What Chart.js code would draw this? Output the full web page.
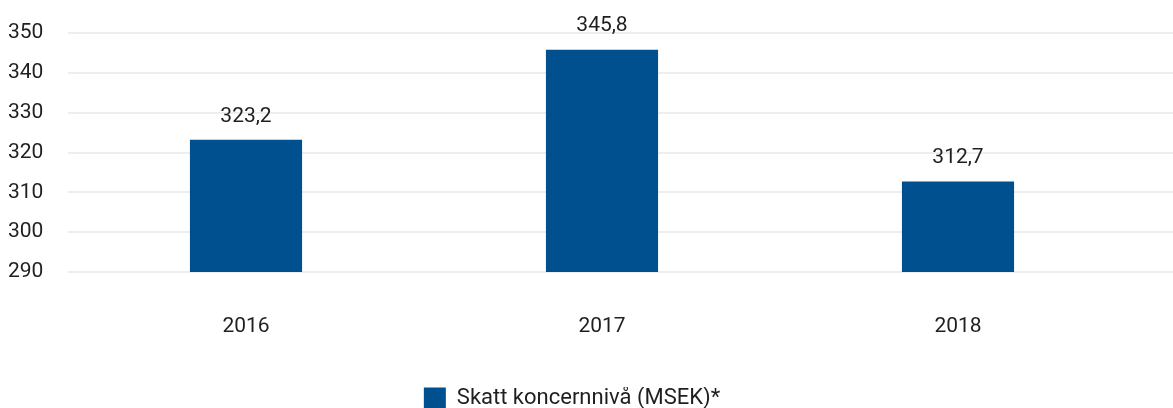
<!DOCTYPE html>
<html>
<head>
<meta charset="utf-8">
<script src="https://cdn.jsdelivr.net/npm/chart.js@4/dist/chart.umd.min.js"></script>
<style>
    html, body { margin: 0; padding: 0; background: #fff; }
    #wrap { width: 1173px; height: 408px; }
</style>
</head>
<body>
<div id="wrap"><canvas id="chart"></canvas></div>
<script>
const years = ['2016', '2017', '2018'];
const skatt = [323.2, 345.8, 312.7];
const seriesLabel = 'Skatt koncernnivå (MSEK)*';
const yMin = 290;
const yMax = 350;
const yStep = 10;

const textColor = '#1f1f1f';
const barColor = '#004f8f';
const gridColor = '#eeeeee';

// draw value labels above the bars and extend the grid to the right edge
const extras = {
    id: 'extras',
    beforeDatasetsDraw(chart) {
        const { ctx, chartArea, scales } = chart;
        ctx.save();
        ctx.strokeStyle = gridColor;
        ctx.lineWidth = 2;
        scales.y.ticks.forEach(t => {
            const y = Math.round(scales.y.getPixelForValue(t.value));
            ctx.beginPath();
            ctx.moveTo(chartArea.left, y);
            ctx.lineTo(chart.width, y);
            ctx.stroke();
        });
        ctx.restore();
    },
    afterDatasetsDraw(chart) {
        const { ctx } = chart;
        const meta = chart.getDatasetMeta(0);
        ctx.save();
        ctx.fillStyle = textColor;
        ctx.font = '21px Roboto';
        ctx.textAlign = 'center';
        ctx.textBaseline = 'bottom';
        meta.data.forEach((bar, i) => {
            const txt = skatt[i].toFixed(1).replace('.', ',');
            ctx.fillText(txt, bar.x, bar.y - 13);
        });
        ctx.restore();
    }
};

new Chart(document.getElementById('chart'), {
    type: 'bar',
    data: {
        labels: years,
        datasets: [{
            label: seriesLabel,
            data: skatt,
            backgroundColor: barColor,
            borderWidth: 0,
            barPercentage: 0.63,
            categoryPercentage: 0.5
        }]
    },
    options: {
        responsive: true,
        maintainAspectRatio: false,
        animation: false,
        layout: { padding: { left: 8, right: 37, top: 33, bottom: -11 } },
        plugins: {
            legend: {
                position: 'bottom',
                labels: {
                    boxWidth: 22,
                    boxHeight: 21,
                    padding: 0,
                    color: textColor,
                    font: { family: 'Roboto', size: 22 }
                }
            },
            tooltip: { enabled: false }
        },
        scales: {
            x: {
                grid: { display: false },
                border: { display: false },
                afterFit: s => { s.height = 115; },
                ticks: {
                    color: textColor,
                    padding: 34,
                    font: { family: 'Roboto', size: 21 }
                }
            },
            y: {
                min: yMin,
                max: yMax,
                grid: { display: false },
                border: { display: false },
                afterFit: s => { s.width = 60; },
                ticks: {
                    stepSize: yStep,
                    crossAlign: 'far',
                    color: textColor,
                    font: { family: 'Roboto', size: 21 }
                }
            }
        }
    },
    plugins: [extras]
});
</script>
</body>
</html>
